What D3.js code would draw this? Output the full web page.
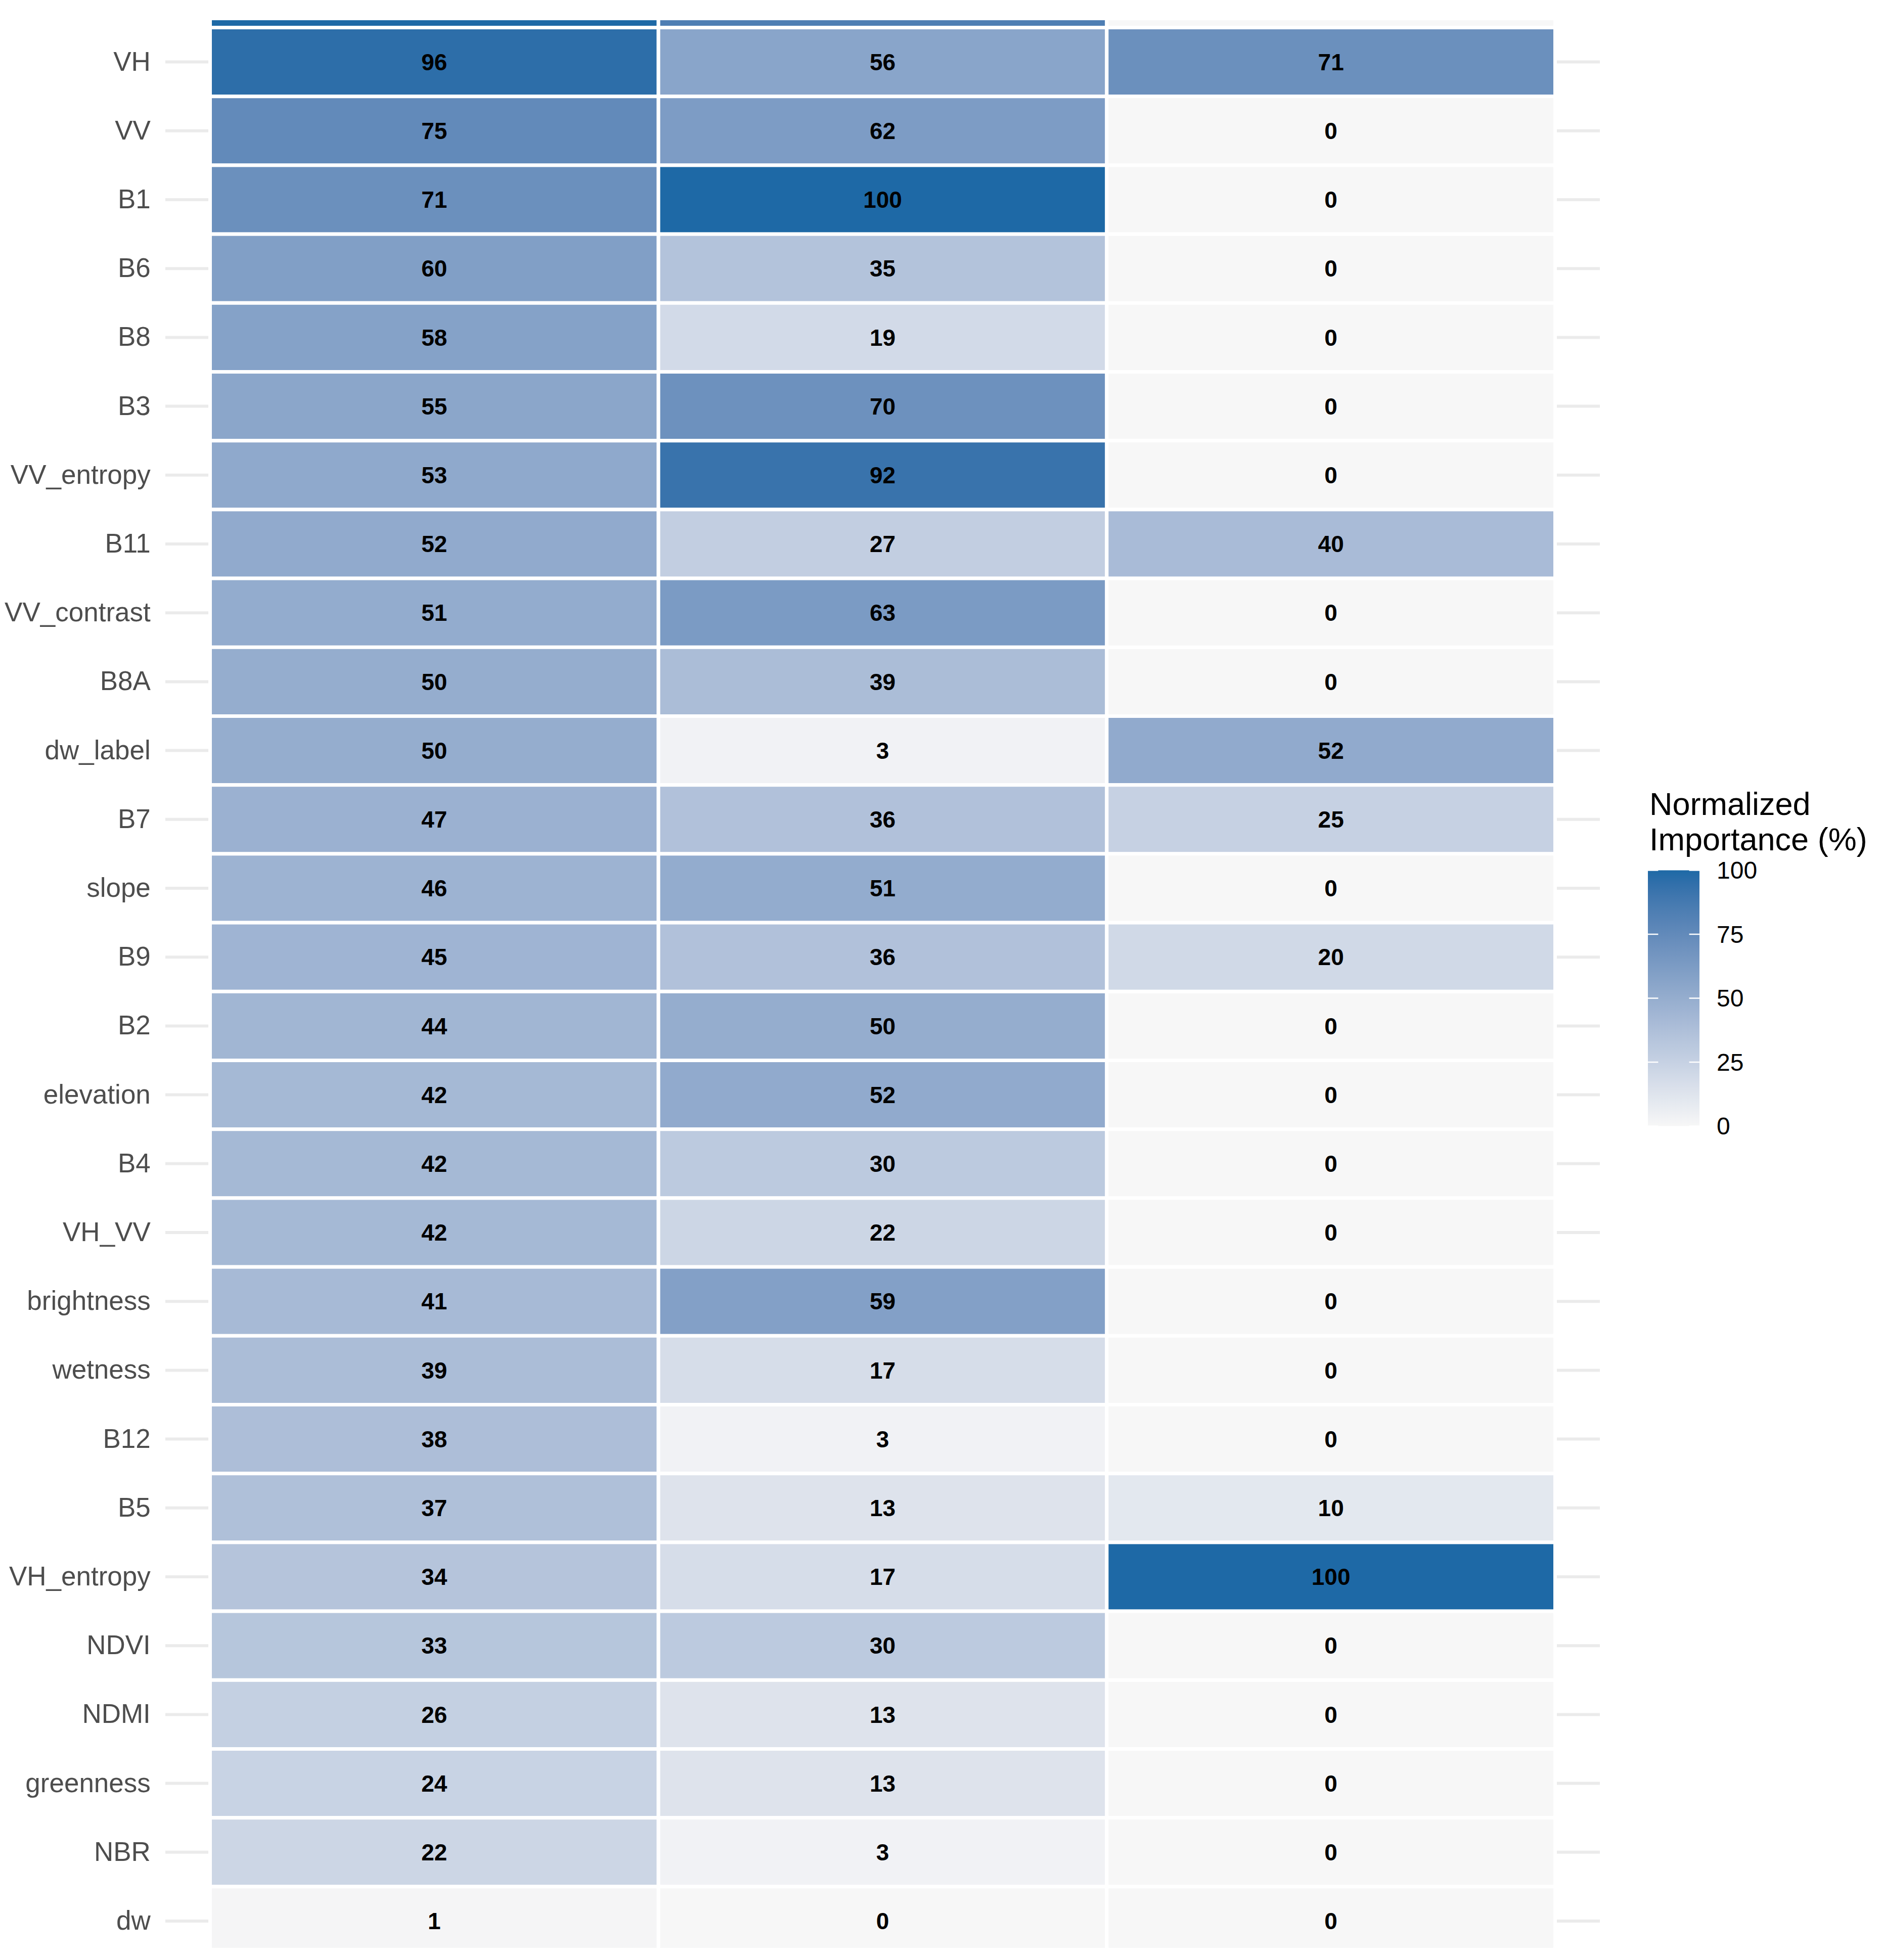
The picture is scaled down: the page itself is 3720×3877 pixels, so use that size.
<!DOCTYPE html>
<html>
<head>
<meta charset="utf-8">
<script src="https://cdn.jsdelivr.net/npm/d3@7"></script>
<style>
  body { margin: 0; background: #fff; }
  text { font-family: "Liberation Sans", Arial, sans-serif; }
</style>
</head>
<body>
<div id="chart"></div>
<script>
// first row is cut off by the top edge of the picture, its label is not visible
const features = ["", "VH", "VV", "B1", "B6", "B8", "B3", "VV_entropy", "B11", "VV_contrast",
  "B8A", "dw_label", "B7", "slope", "B9", "B2", "elevation", "B4", "VH_VV", "brightness",
  "wetness", "B12", "B5", "VH_entropy", "NDVI", "NDMI", "greenness", "NBR", "dw"];
const models = ["model_1", "model_2", "model_3"];
const model1 = [100, 96, 75, 71, 60, 58, 55, 53, 52, 51, 50, 50, 47, 46, 45, 44, 42, 42, 42, 41, 39, 38, 37, 34, 33, 26, 24, 22, 1];
const model2 = [84, 56, 62, 100, 35, 19, 70, 92, 27, 63, 39, 3, 36, 51, 36, 50, 52, 30, 22, 59, 17, 3, 13, 17, 30, 13, 13, 3, 0];
const model3 = [0, 71, 0, 0, 0, 0, 0, 0, 40, 0, 0, 52, 25, 0, 20, 0, 0, 0, 0, 0, 0, 0, 10, 100, 0, 0, 0, 0, 0];
const legendTicks = [0, 25, 50, 75, 100];
const legendTitle = ["Normalized", "Importance (%)"];

const width = 3720, height = 3877;

const cells = [];
features.forEach((f, i) => {
  [model1, model2, model3].forEach((vals, j) => {
    cells.push({feature: f, model: models[j], value: vals[i]});
  });
});

const svg = d3.select("#chart").append("svg")
  .attr("width", width)
  .attr("height", height)
  .style("background", "#fff");

const x = d3.scaleBand().domain(models).range([415.5, 3075.5]);
const y = d3.scaleBand().domain(features).range([-81.7, 3868.1]);
const panel = {left: x.range()[0] - 0.1 * x.step(), right: x.range()[1] + 0.1 * x.step()};

const color = d3.scaleLinear().domain([0, 100])
  .range(["#f7f7f7", "#1e69a6"])
  .interpolate(d3.interpolateLab);

svg.append("clipPath").attr("id", "panel-clip")
  .append("rect")
  .attr("x", panel.left).attr("y", 40)
  .attr("width", panel.right - panel.left).attr("height", 3853 - 40);

let plot = svg.append("g").attr("clip-path", "url(#panel-clip)");

// horizontal grid lines, only visible outside the tiles
plot.append("g").selectAll("line")
  .data(features)
  .join("line")
  .attr("x1", panel.left).attr("x2", panel.right)
  .attr("y1", d => y(d) + y.bandwidth() / 2)
  .attr("y2", d => y(d) + y.bandwidth() / 2)
  .attr("stroke", "#ebebeb")
  .attr("stroke-width", 6);

plot.append("g").selectAll("rect")
  .data(cells)
  .join("rect")
  .attr("x", d => x(d.model))
  .attr("y", d => y(d.feature))
  .attr("width", x.bandwidth())
  .attr("height", y.bandwidth())
  .attr("fill", d => color(d.value))
  .attr("stroke", "#fff")
  .attr("stroke-width", 7);

// no value labels for the cropped top row
plot.append("g").selectAll("text")
  .data(cells.filter(d => d.feature !== ""))
  .join("text")
  .attr("x", d => x(d.model) + x.bandwidth() / 2)
  .attr("y", d => y(d.feature) + y.bandwidth() / 2)
  .attr("dy", "0.35em")
  .attr("text-anchor", "middle")
  .style("font-size", "46px")
  .style("font-weight", "bold")
  .attr("fill", "#000")
  .text(d => d3.format("d")(Math.round(d.value)));

// y axis, labels only
let yaxis = svg.append("g")
  .attr("transform", "translate(" + panel.left + ",0)")
  .call(d3.axisLeft(y).tickSize(0).tickPadding(29));
yaxis.select(".domain").remove();
yaxis.selectAll(".tick").filter(d => d === "").remove();
yaxis.selectAll("text")
  .style("font-family", "'Liberation Sans', Arial, sans-serif")
  .style("font-size", "53px")
  .attr("fill", "#4d4d4d");

// legend colourbar
const legend = {x: 3259, top: 1721.5, bottom: 2227.5, w: 102};
const legendscale = d3.scaleLinear().domain([0, 100]).range([legend.bottom, legend.top]);

let grad = svg.append("defs").append("linearGradient")
  .attr("id", "legend-grad")
  .attr("x1", 0).attr("y1", 1).attr("x2", 0).attr("y2", 0);
grad.selectAll("stop")
  .data(d3.range(0, 101, 5))
  .join("stop")
  .attr("offset", d => d / 100)
  .attr("stop-color", d => color(d));

let lg = svg.append("g");
lg.append("rect")
  .attr("x", legend.x)
  .attr("y", legend.top)
  .attr("width", legend.w)
  .attr("height", legend.bottom - legend.top)
  .attr("fill", "url(#legend-grad)");

lg.selectAll("line.tl")
  .data(legendTicks)
  .join("line")
  .attr("class", "tl")
  .attr("x1", legend.x).attr("x2", legend.x + legend.w * 0.2)
  .attr("y1", d => legendscale(d)).attr("y2", d => legendscale(d))
  .attr("stroke", "#fff").attr("stroke-width", 2.5);
lg.selectAll("line.tr")
  .data(legendTicks)
  .join("line")
  .attr("class", "tr")
  .attr("x1", legend.x + legend.w * 0.8).attr("x2", legend.x + legend.w)
  .attr("y1", d => legendscale(d)).attr("y2", d => legendscale(d))
  .attr("stroke", "#fff").attr("stroke-width", 2.5);

lg.selectAll("text.lab")
  .data(legendTicks)
  .join("text")
  .attr("class", "lab")
  .attr("x", legend.x + legend.w + 34)
  .attr("y", d => legendscale(d))
  .attr("dy", "0.35em")
  .style("font-size", "48px")
  .attr("fill", "#000")
  .text(d => d);

lg.selectAll("text.title")
  .data(legendTitle)
  .join("text")
  .attr("class", "title")
  .attr("x", legend.x + 3)
  .attr("y", (d, i) => 1612 + i * 70)
  .style("font-size", "63px")
  .attr("fill", "#000")
  .text(d => d);
</script>
</body>
</html>
